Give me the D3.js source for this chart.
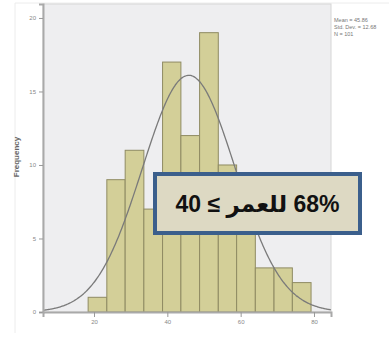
<!DOCTYPE html>
<html>
<head>
<meta charset="utf-8">
<script src="https://cdn.jsdelivr.net/npm/d3@7/dist/d3.min.js"></script>
<style>
  html, body { margin: 0; padding: 0; background: #ffffff; }
  svg { display: block; }
</style>
</head>
<body>
<svg id="chart" width="389" height="342"></svg>
<script>
// ---- data ----
const binEdges = [18.4, 23.5, 28.5, 33.6, 38.7, 43.7, 48.8, 53.9, 58.9, 64.0, 69.1, 74.1, 79.2];
const counts   = [1, 9, 11, 7, 17, 12, 19, 10, 7, 3, 3, 2];
const yTicks   = [0, 5, 10, 15, 20];
const xTicks   = [20, 40, 60, 80];
const statsLines = ["Mean = 45.86", "Std. Dev. = 12.68", "N = 101"];
const fitMean = 45.86, fitSd = 12.68, fitN = 101;
const yTitle = "Frequency";
const boxText = "40 ≤ \u200Eللعمر\u200E 68%";

// ---- layout ----
const svg = d3.select("#chart");
const L = 43, R = 331, T = 4, B = 312;

const x = d3.scaleLinear().domain([6.09, 84.64]).range([L, R]);
const y = d3.scaleLinear().domain([0, 20.95]).range([B, T]);

// faint outer frame lines (left and top only)
svg.append("path").attr("d", "M15,333 V3 H389")
  .attr("fill", "none").attr("stroke", "#ececec").attr("stroke-width", 1);

// plot background
svg.append("rect").attr("x", L).attr("y", T).attr("width", R - L).attr("height", B - T)
  .attr("fill", "#eeeef0").attr("stroke", "#d6d6d6").attr("stroke-width", 1);

// bars
const bins = counts.map((c, i) => ({ x0: binEdges[i], x1: binEdges[i + 1], c }));
svg.append("g").selectAll("rect").data(bins).join("rect")
  .attr("x", d => x(d.x0))
  .attr("y", d => y(d.c))
  .attr("width", d => x(d.x1) - x(d.x0))
  .attr("height", d => y(0) - y(d.c))
  .attr("fill", "#d3cf98")
  .attr("stroke", "#8f8b63")
  .attr("stroke-width", 1);

// normal curve
const bw = (binEdges[binEdges.length - 1] - binEdges[0]) / counts.length;
const xs = d3.range(x.domain()[0], x.domain()[1], 0.25);
const dens = v => fitN * bw / (fitSd * Math.sqrt(2 * Math.PI)) * Math.exp(-0.5 * Math.pow((v - fitMean) / fitSd, 2));
svg.append("path").datum(xs)
  .attr("d", d3.line().x(v => x(v)).y(v => y(dens(v))).curve(d3.curveBasis))
  .attr("fill", "none").attr("stroke", "#7a7a7a").attr("stroke-width", 1.3);

// axes
const yAxis = svg.append("g").attr("transform", `translate(${L},0)`)
  .call(d3.axisLeft(y).tickValues(yTicks).tickSize(4).tickFormat(d3.format("d")));
const xAxis = svg.append("g").attr("transform", `translate(0,${B})`)
  .call(d3.axisBottom(x).tickValues(xTicks).tickSize(5).tickFormat(d3.format("d")));
[yAxis, xAxis].forEach(g => {
  g.select(".domain").attr("stroke", "#a9a9a9").attr("stroke-width", 2);
  g.selectAll(".tick line").attr("stroke", "#999");
  g.selectAll(".tick text").attr("fill", "#888").attr("font-size", 6)
    .attr("font-family", "Liberation Sans, Arial, sans-serif");
});

// y title
svg.append("text")
  .attr("transform", `translate(19,157) rotate(-90)`)
  .attr("text-anchor", "middle")
  .attr("font-family", "Liberation Sans, Arial, sans-serif")
  .attr("font-size", 8).attr("font-weight", "bold").attr("fill", "#666")
  .text(yTitle);

// stats legend
svg.append("g").selectAll("text").data(statsLines).join("text")
  .attr("x", 334).attr("y", (d, i) => 22 + i * 7)
  .attr("font-family", "Liberation Sans, Arial, sans-serif")
  .attr("font-size", 5.5).attr("fill", "#777")
  .text(d => d);

// annotation box
svg.append("rect").attr("x", 155).attr("y", 174).attr("width", 205).attr("height", 59)
  .attr("fill", "#ddd9c3").attr("stroke", "#3b5f8c").attr("stroke-width", 4);
svg.append("text")
  .attr("x", 257.5).attr("y", 212)
  .attr("text-anchor", "middle")
  .attr("direction", "ltr")
  .attr("font-family", "Liberation Sans, DejaVu Sans, sans-serif")
  .attr("font-size", 23).attr("font-weight", "bold").attr("fill", "#111")
  .text(boxText);
</script>
</body>
</html>
